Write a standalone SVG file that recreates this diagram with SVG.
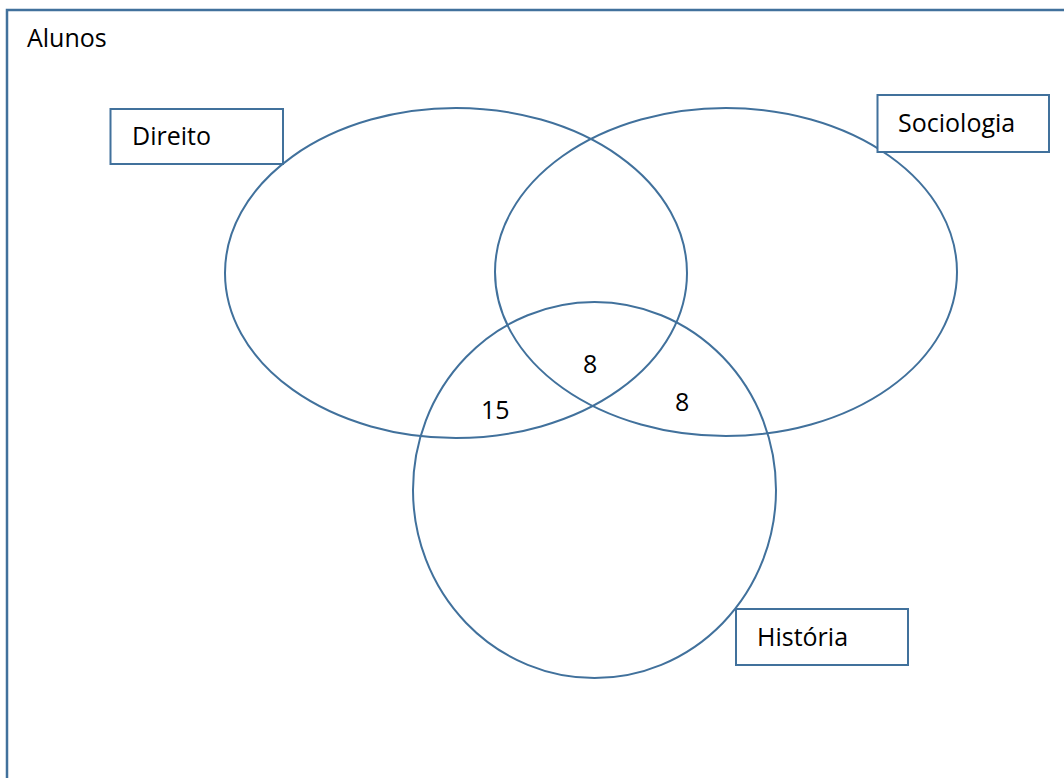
<svg xmlns="http://www.w3.org/2000/svg" width="1064" height="778" viewBox="0 0 1064 778">
<style>
.set{fill:none;stroke:#41719c;stroke-width:2}
.box{fill:#fff;stroke:#41719c;stroke-width:2}
.t{font-family:"Open Sans","Liberation Sans",sans-serif;font-size:25px;fill:#000}
</style>
<rect x="0" y="0" width="1064" height="778" fill="#fff"/>
<g id="universe">
<rect x="7" y="10" width="1070" height="800" fill="none" stroke="#41719c" stroke-width="2.5"/>
<text class="t" x="27" y="47">Alunos</text>
</g>
<g id="sets">
<ellipse id="direito-set" class="set" cx="456" cy="273" rx="231" ry="165"/>
<ellipse id="sociologia-set" class="set" cx="726" cy="272" rx="231" ry="164"/>
<ellipse id="historia-set" class="set" cx="594.5" cy="490" rx="181.5" ry="188"/>
</g>
<g id="direito">
<rect class="box" x="110.5" y="109" width="172.5" height="55"/>
<text class="t" x="132" y="145">Direito</text>
</g>
<g id="sociologia">
<rect class="box" x="877.5" y="95" width="171.5" height="57"/>
<text class="t" x="898" y="132">Sociologia</text>
</g>
<g id="historia">
<rect class="box" x="736" y="609" width="172" height="56"/>
<text class="t" x="757" y="646">História</text>
</g>
<g id="counts">
<text class="t" x="583" y="373">8</text>
<text class="t" x="481" y="419">15</text>
<text class="t" x="675" y="411">8</text>
</g>
</svg>
